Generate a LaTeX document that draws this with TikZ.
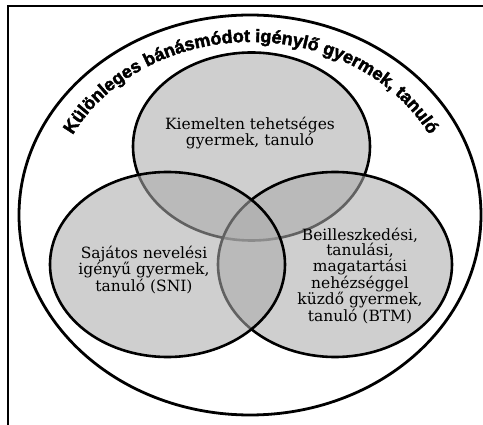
\documentclass[tikz,border=0pt]{standalone}
\usepackage{fontspec}
\setmainfont{DejaVu Serif}
\newfontfamily\cimfont[FakeBold=2.4]{Liberation Sans Bold}
\usepackage{tikz}
\usetikzlibrary{decorations.text}
\definecolor{halmazszurke}{HTML}{ABABAB}

\tikzset{
  halmaz/.style={draw=black, line width=2.6pt, fill=halmazszurke, fill opacity=0.57},
  felirat/.style={align=center, text=black, inner sep=0pt}
}

\begin{document}
\begin{tikzpicture}[x=1pt, y=1pt]
  \useasboundingbox (0,0) rectangle (483,424);
  \clip (0,0) rectangle (483,424);
  % keret
  \draw[line width=1.8pt] (8,-20) rectangle (500,418);
  % nagy halmaz
  \draw[line width=2.8pt] (250,209) ellipse[x radius=231pt, y radius=200pt];
  % harom kisebb halmaz
  \path[halmaz] (251.5,277.5) ellipse[x radius=118.5pt, y radius=94pt];
  \path[halmaz] (335,159.5) ellipse[x radius=117pt, y radius=92.5pt];
  \path[halmaz] (167.5,159.5) ellipse[x radius=117.5pt, y radius=92.5pt];
  % feliratok
  \node[felirat, font=\fontsize{15.5}{16}\selectfont] (tehetseges) at (250,291)
    {Kiemelten tehetséges\\gyermek, tanuló};
  \node[felirat, font=\fontsize{15.5}{13.6}\selectfont] (sni) at (144,154)
    {Sajátos nevelési\\igényű gyermek,\\tanuló (SNI)};
  \node[felirat, font=\fontsize{15.5}{13.6}\selectfont] (btm) at (360,148)
    {Beilleszkedési,\\tanulási,\\magatartási\\nehézséggel\\küzdő gyermek,\\tanuló (BTM)};
  % cim az ív mentén
  \path[decorate, decoration={text along path, text align=center,
      text={|\cimfont\fontsize{18}{18}\selectfont|Különleges bánásmódot igénylő gyermek, tanuló}}]
    (68.8,282.1) arc[start angle=155, end angle=25, x radius=201pt, y radius=173pt];
\end{tikzpicture}
\end{document}
